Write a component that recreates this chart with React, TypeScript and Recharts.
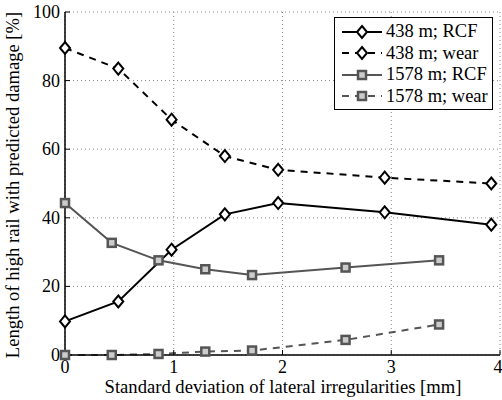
import React from 'react'
import { LineChart, Line, XAxis, YAxis, CartesianGrid, ReferenceLine, Legend } from 'recharts'

const xShort = [0, 0.49, 0.98, 1.47, 1.96, 2.94, 3.92]
const xLong = [0, 0.43, 0.86, 1.29, 1.72, 2.58, 3.44]
const rcf438 = [9.8, 15.6, 30.7, 41, 44.3, 41.6, 38]
const wear438 = [89.5, 83.5, 68.6, 58, 54, 51.7, 50]
const rcf1578 = [44.3, 32.7, 27.6, 25, 23.3, 25.5, 27.6]
const wear1578 = [0, 0, 0.3, 1, 1.3, 4.4, 8.9]
const xTicks = [0, 1, 2, 3, 4]
const yTicks = [0, 20, 40, 60, 80, 100]

const toPoints = (xs: number[], ys: number[]) => xs.map((x, i) => ({ x, y: ys[i] }))

const font = 'Liberation Serif, serif'
const txt = { fontFamily: font, fontSize: 18, fill: '#000' }
const labelTxt = { fontFamily: font, fontSize: 18.6, fill: '#000' }
const grey = '#555555'

const Diamond = (props: any) => {
  const { cx, cy } = props
  if (cx == null || cy == null) return null
  return (
    <polygon
      points={`${cx},${cy - 6} ${cx + 5},${cy} ${cx},${cy + 6} ${cx - 5},${cy}`}
      fill="#fff"
      stroke="#000"
      strokeWidth={2}
    />
  )
}

const Square = (props: any) => {
  const { cx, cy } = props
  if (cx == null || cy == null) return null
  return <rect x={cx - 4} y={cy - 4} width={8} height={8} fill="#ccc" stroke={grey} strokeWidth={2.5} />
}

const XTick = (props: any) => {
  const { x, payload } = props
  return (
    <text x={x} y={373} textAnchor="middle" style={txt}>
      {payload.value}
    </text>
  )
}

const YTick = (props: any) => {
  const { y, payload } = props
  return (
    <text x={60} y={y + 6} textAnchor="end" style={txt}>
      {payload.value}
    </text>
  )
}

const NoTick = () => null

const legendRows = [
  { name: '438 m; RCF', color: '#000', dash: undefined, marker: 'd' },
  { name: '438 m; wear', color: '#000', dash: '7 6', marker: 'd' },
  { name: '1578 m; RCF', color: grey, dash: undefined, marker: 's' },
  { name: '1578 m; wear', color: grey, dash: '7 6', marker: 's' },
]

const LegendBox = () => (
  <div style={{ border: '1.5px solid #000', background: '#fff', padding: '3px 4px 2px 6px', fontFamily: font, fontSize: 18.5 }}>
    {legendRows.map((r) => (
      <div key={r.name} style={{ display: 'flex', alignItems: 'center', height: 21.5 }}>
        <svg width={42} height={16} style={{ marginRight: 3 }}>
          <line x1={1} y1={8} x2={41} y2={8} stroke={r.color} strokeWidth={2} strokeDasharray={r.dash} />
          {r.marker === 'd' ? <Diamond cx={21} cy={8} /> : <Square cx={21} cy={8} />}
        </svg>
        <span style={{ color: '#000', whiteSpace: 'nowrap' }}>{r.name}</span>
      </div>
    ))}
  </div>
)

export default function App() {
  const axisLine = { stroke: '#000', strokeWidth: 1.5 }
  const tickLine = { stroke: '#000', strokeWidth: 1 }
  return (
    <div style={{ position: 'absolute', left: 0, top: 0, background: '#fff', fontFamily: font }}>
      <LineChart width={502} height={400} margin={{ top: 12, right: 2, bottom: 0, left: 0 }}>
        <CartesianGrid stroke="#888" strokeDasharray="1 3" />
        <XAxis
          type="number"
          dataKey="x"
          domain={[0, 4]}
          ticks={xTicks}
          height={45}
          tick={<XTick />}
          tickLine={tickLine}
          tickSize={-5}
          axisLine={axisLine}
        />
        <XAxis
          xAxisId="top"
          orientation="top"
          type="number"
          domain={[0, 4]}
          ticks={xTicks}
          height={0}
          tick={<NoTick />}
          tickLine={tickLine}
          tickSize={-5}
          axisLine={axisLine}
        />
        <YAxis
          type="number"
          domain={[0, 100]}
          ticks={yTicks}
          width={65}
          tick={<YTick />}
          tickLine={tickLine}
          tickSize={-5}
          axisLine={axisLine}
        />
        <YAxis
          yAxisId="right"
          orientation="right"
          type="number"
          domain={[0, 100]}
          ticks={yTicks}
          width={0}
          tick={<NoTick />}
          tickLine={tickLine}
          tickSize={-5}
          axisLine={axisLine}
        />
        <Line data={toPoints(xShort, rcf438)} dataKey="y" name="438 m; RCF" stroke="#000" strokeWidth={2} dot={<Diamond />} isAnimationActive={false} />
        <Line data={toPoints(xShort, wear438)} dataKey="y" name="438 m; wear" stroke="#000" strokeWidth={2} strokeDasharray="7 6" dot={<Diamond />} isAnimationActive={false} />
        <Line data={toPoints(xLong, rcf1578)} dataKey="y" name="1578 m; RCF" stroke={grey} strokeWidth={2} dot={<Square />} isAnimationActive={false} />
        <Line data={toPoints(xLong, wear1578)} dataKey="y" name="1578 m; wear" stroke={grey} strokeWidth={2} strokeDasharray="7 6" dot={<Square />} isAnimationActive={false} />
        <Legend
          layout="vertical"
          align="center"
          verticalAlign="middle"
          content={<LegendBox />}
          wrapperStyle={{ left: 334, top: 17, width: 'auto' }}
        />
        <text x={283} y={393} textAnchor="middle" style={labelTxt}>
          Standard deviation of lateral irregularities [mm]
        </text>
        <text x={19} y={185} transform="rotate(-90 19 185)" textAnchor="middle" style={labelTxt}>
          Length of high rail with predicted damage [%]
        </text>
      </LineChart>
    </div>
  )
}
